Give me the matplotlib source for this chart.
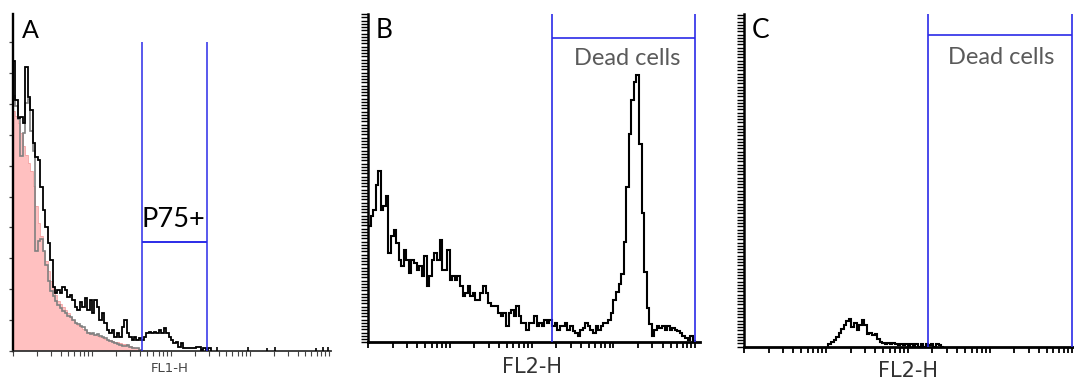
import numpy as np
import matplotlib
matplotlib.use("Agg")
import matplotlib.pyplot as plt
from matplotlib.ticker import LogLocator, NullLocator, NullFormatter, MultipleLocator

# histogram bins: 32 per decade over 4 decades (FL channel, log scale)
edges = 10 ** (np.arange(129) / 32)

# panel A (FL1-H) - three overlaid histograms
a_black = [290, 251, 233, 234, 228, 284, 254, 241, 208, 194,
           191, 164, 141, 124, 108, 91, 64, 58, 61, 58,
           64, 61, 54, 56, 51, 44, 41, 49, 44, 53,
           41, 51, 38, 51, 44, 31, 38, 28, 21, 18,
           21, 14, 18, 14, 24, 31, 18, 14, 11, 14,
           11, 13, 11, 14, 18, 19, 18, 19, 18, 21,
           18, 23, 18, 14, 11, 8, 9, 4, 8, 3,
           3, 3, 3, 3, 4, 4, 1, 3, 1, 3]
a_gray = [255, 245, 232, 195, 218, 248, 252, 220, 200, 100,
          110, 112, 100, 86, 70, 60, 55, 50, 46, 43,
          40, 38, 35, 34, 31, 28, 27, 25, 24, 21,
          18, 17, 18, 16, 17, 15, 14, 13, 11, 10,
          9, 8, 7, 6, 5, 5, 6, 4, 3, 3,
          3, 1]
a_pink = [240, 235, 228, 218, 205, 196, 188, 180, 165, 145,
          128, 115, 100, 90, 80, 70, 62, 56, 50, 47,
          44, 41, 38, 34, 31, 28, 26, 24, 22, 21,
          19, 18, 17, 16, 15, 14, 13, 12, 11, 11,
          10, 9, 9, 8, 7, 7, 6, 5, 4, 3,
          3, 2, 1]
a_spike_x = [380, 955, 1620, 2090, 6920, 8510, 9770]
a_spike_h = [4, 4, 3, 4, 3, 4, 4]
gate_a = (42.6, 283)        # P75+ gate limits
gate_a_h = (109, 309)       # bar height, line top

# panel B (FL2-H) - dead-cell peak
b_counts = [116, 126, 132, 157, 171, 132, 136, 146, 89, 106,
            112, 99, 82, 76, 92, 82, 69, 82, 79, 72,
            76, 66, 86, 56, 66, 82, 89, 82, 102, 72,
            72, 92, 62, 66, 62, 66, 56, 46, 49, 56,
            46, 49, 42, 42, 49, 56, 49, 39, 36, 36,
            36, 29, 26, 29, 16, 29, 32, 26, 36, 26,
            19, 19, 12, 19, 19, 26, 16, 19, 16, 22,
            19, 22, 16, 19, 12, 16, 16, 19, 12, 16,
            11, 9, 6, 12, 14, 19, 16, 12, 9, 16,
            12, 16, 19, 19, 22, 29, 42, 50, 58, 68,
            100, 155, 208, 242, 260, 267, 198, 129, 70, 34,
            18, 6, 12, 16, 14, 16, 12, 16, 12, 14,
            12, 11, 9, 6, 4, 2, 6, 1]
gate_b = (177, 10000)
gate_b_h = 304

# panel C (FL2-H) - small population, starts at bin 33
c_start = 33
c_counts = [3, 5, 7, 10, 14, 18, 22, 26, 28, 20,
            24, 17, 22, 27, 22, 13, 14, 12, 13, 8,
            5, 4, 3, 4, 3, 4, 3, 2, 3, 2,
            3, 0, 3, 0, 3, 0, 3, 0, 3, 2,
            3, 0, 3, 2, 0]
gate_c = (178, 10000)
gate_c_h = 312

BLUE = "#2b2be8"
W, H = 1074, 380

fig = plt.figure(figsize=(W / 100, H / 100), dpi=100)


def add_panel(left, top, right, bottom, decade_px):
    ax = fig.add_axes([left / W, 1 - bottom / H, (right - left) / W, (bottom - top) / H])
    ax.set_xscale("log")
    ax.set_xlim(1, 10 ** ((right - left) / decade_px))
    ax.set_ylim(0, bottom - top)
    ax.xaxis.set_major_locator(LogLocator(base=10, subs=np.arange(1, 10), numticks=60))
    ax.xaxis.set_minor_locator(NullLocator())
    ax.xaxis.set_major_formatter(NullFormatter())
    ax.yaxis.set_major_formatter(NullFormatter())
    ax.spines["top"].set_visible(False)
    ax.spines["right"].set_visible(False)
    return ax


# ---- A
axA = add_panel(13, 14, 331, 351, 79)
axA.stairs(a_pink, edges[:len(a_pink) + 1], fill=True, color="#ffc0c0", zorder=1)
axA.stairs(a_pink, edges[:len(a_pink) + 1], color="#f2a0a0", lw=0.6, zorder=1.5)
axA.stairs(a_gray, edges[:len(a_gray) + 1], color="#808080", lw=1.2, zorder=2)
axA.stairs(a_black, edges[:len(a_black) + 1], color="black", lw=1.3, zorder=3)
axA.vlines(a_spike_x, 0, a_spike_h, colors="black", lw=1.2, zorder=3)
axA.vlines(gate_a, 0, gate_a_h[1], colors=BLUE, lw=1.1, zorder=4)
axA.hlines(gate_a_h[0], gate_a[0], gate_a[1], colors=BLUE, lw=1.4, zorder=4)
axA.yaxis.set_major_locator(MultipleLocator(30.9))
axA.tick_params(axis="y", direction="out", length=3, width=0.9, color="#444444")
axA.tick_params(axis="x", direction="out", length=3.5, width=0.8, color="#444444")
axA.spines["left"].set_linewidth(1.7)
axA.spines["bottom"].set_linewidth(1.3)
axA.spines["bottom"].set_color("#333333")

# ---- B
axB = add_panel(368, 14, 700, 342.3, 81.8)
axB.stairs(b_counts, edges[:len(b_counts) + 1], color="black", lw=1.5, zorder=3)
axB.vlines(gate_b, 0, 328.3, colors=BLUE, lw=1.2, zorder=4)
axB.hlines(gate_b_h, gate_b[0], gate_b[1], colors=BLUE, lw=1.2, zorder=4)

# ---- C
axC = add_panel(744, 14, 1073, 346.7, 81.9)
axC.stairs(c_counts, edges[c_start:c_start + len(c_counts) + 1], color="black", lw=1.5, zorder=3)
axC.vlines(gate_c, 0, 332.7, colors=BLUE, lw=1.2, zorder=4)
axC.hlines(gate_c_h, gate_c[0], gate_c[1], colors=BLUE, lw=1.2, zorder=4)

for ax in (axB, axC):
    ax.yaxis.set_major_locator(MultipleLocator(3.25))
    ax.tick_params(axis="y", direction="out", length=5, width=1.0, color="black")
    ax.tick_params(axis="x", direction="out", length=4.5, width=1.3, color="black")
    ax.spines["left"].set_linewidth(1.8)
    ax.spines["bottom"].set_linewidth(2.0)

# ---- text
def ptext(x, y, s, **kw):
    fig.text(x / W, 1 - y / H, s, **kw)

ptext(22, 38, "A", fontsize=18, family="Lato", va="baseline")
ptext(376, 37.5, "B", fontsize=19, family="Lato", va="baseline")
ptext(752, 38, "C", fontsize=19, family="Lato", va="baseline")
ptext(173.5, 227, "P75+", fontsize=19.5, family="Lato", ha="center", va="baseline")
ptext(627, 65, "Dead cells", fontsize=17, family="Lato", color="#5a5a5a",
      ha="center", va="baseline")
ptext(1001, 63.5, "Dead cells", fontsize=17, family="Lato", color="#5a5a5a",
      ha="center", va="baseline")
ptext(170, 372, "FL1-H", fontsize=9.5, color="#444444", ha="center", va="baseline")
ptext(531.5, 373, "FL2-H", fontsize=15, color="#333333", ha="center", va="baseline")
ptext(908, 377, "FL2-H", fontsize=15, color="#333333", ha="center", va="baseline")

fig.savefig("out.png", dpi=100)
